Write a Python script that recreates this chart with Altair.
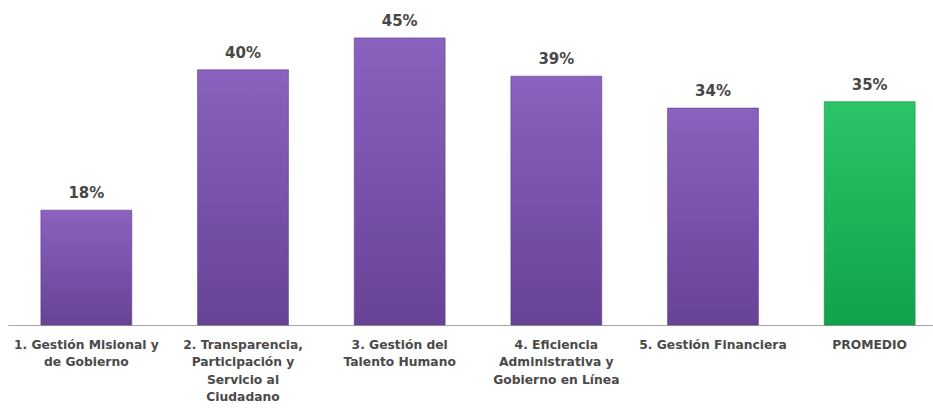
import altair as alt
import pandas as pd

categories = [
    "1. Gestión Misional y|de Gobierno",
    "2. Transparencia,|Participación y|Servicio al|Ciudadano",
    "3. Gestión del|Talento Humano",
    "4. Eficiencia|Administrativa y|Gobierno en Línea",
    "5. Gestión Financiera",
    "PROMEDIO",
]
values = [18, 40, 45, 39, 34, 35]
groups = ["eje", "eje", "eje", "eje", "eje", "promedio"]

df = pd.DataFrame({"cat": categories, "val": values, "grp": groups})
df["lbl"] = df["val"].astype(str) + "%"

x_enc = alt.X(
    "cat:N",
    sort=categories,
    title=None,
    scale=alt.Scale(range=[0, 940], paddingInner=0.42, paddingOuter=0.21),
    axis=alt.Axis(
        labelAngle=0,
        ticks=False,
        domain=True,
        domainColor="#a6a6a6",
        domainWidth=1.2,
        labelExpr="split(datum.value, '|')",
        labelFont="DejaVu Sans",
        labelFontSize=12.3,
        labelFontWeight="bold",
        labelColor="#4a4a4a",
        labelPadding=13,
        labelLineHeight=17.5,
        labelLimit=0,
    ),
)
y_enc = alt.Y("val:Q", scale=alt.Scale(domain=[0, 50]), axis=None)

purple = alt.Gradient(
    gradient="linear", x1=0, y1=0, x2=0, y2=1,
    stops=[alt.GradientStop(color="#8a62bf", offset=0),
           alt.GradientStop(color="#7852ab", offset=0.5),
           alt.GradientStop(color="#674396", offset=1)],
)
green = alt.Gradient(
    gradient="linear", x1=0, y1=0, x2=0, y2=1,
    stops=[alt.GradientStop(color="#2cc468", offset=0),
           alt.GradientStop(color="#1db458", offset=0.5),
           alt.GradientStop(color="#12a24b", offset=1)],
)

base = alt.Chart(df).encode(x=x_enc, y=y_enc)

bars_p = base.transform_filter(alt.datum.grp == "eje").mark_bar(
    color=purple, stroke="#5a3a86", strokeWidth=1, strokeOpacity=0.6
)
bars_g = base.transform_filter(alt.datum.grp == "promedio").mark_bar(
    color=green, stroke="#0f8f40", strokeWidth=1, strokeOpacity=0.6
)
texts = base.mark_text(
    dy=-9, baseline="bottom", font="DejaVu Sans", fontSize=15,
    fontWeight="bold", color="#474747"
).encode(text="lbl:N")

chart = (
    alt.layer(bars_p, bars_g, texts)
    .properties(
        width=925,
        height=319,
        autosize=alt.AutoSizeParams(type="none"),
        padding={"left": 8, "top": 6, "right": 0, "bottom": 83},
        background="white",
    )
    .configure_view(stroke=None)
)

chart.save("out.html", embed_options={"renderer": "svg", "actions": False})
